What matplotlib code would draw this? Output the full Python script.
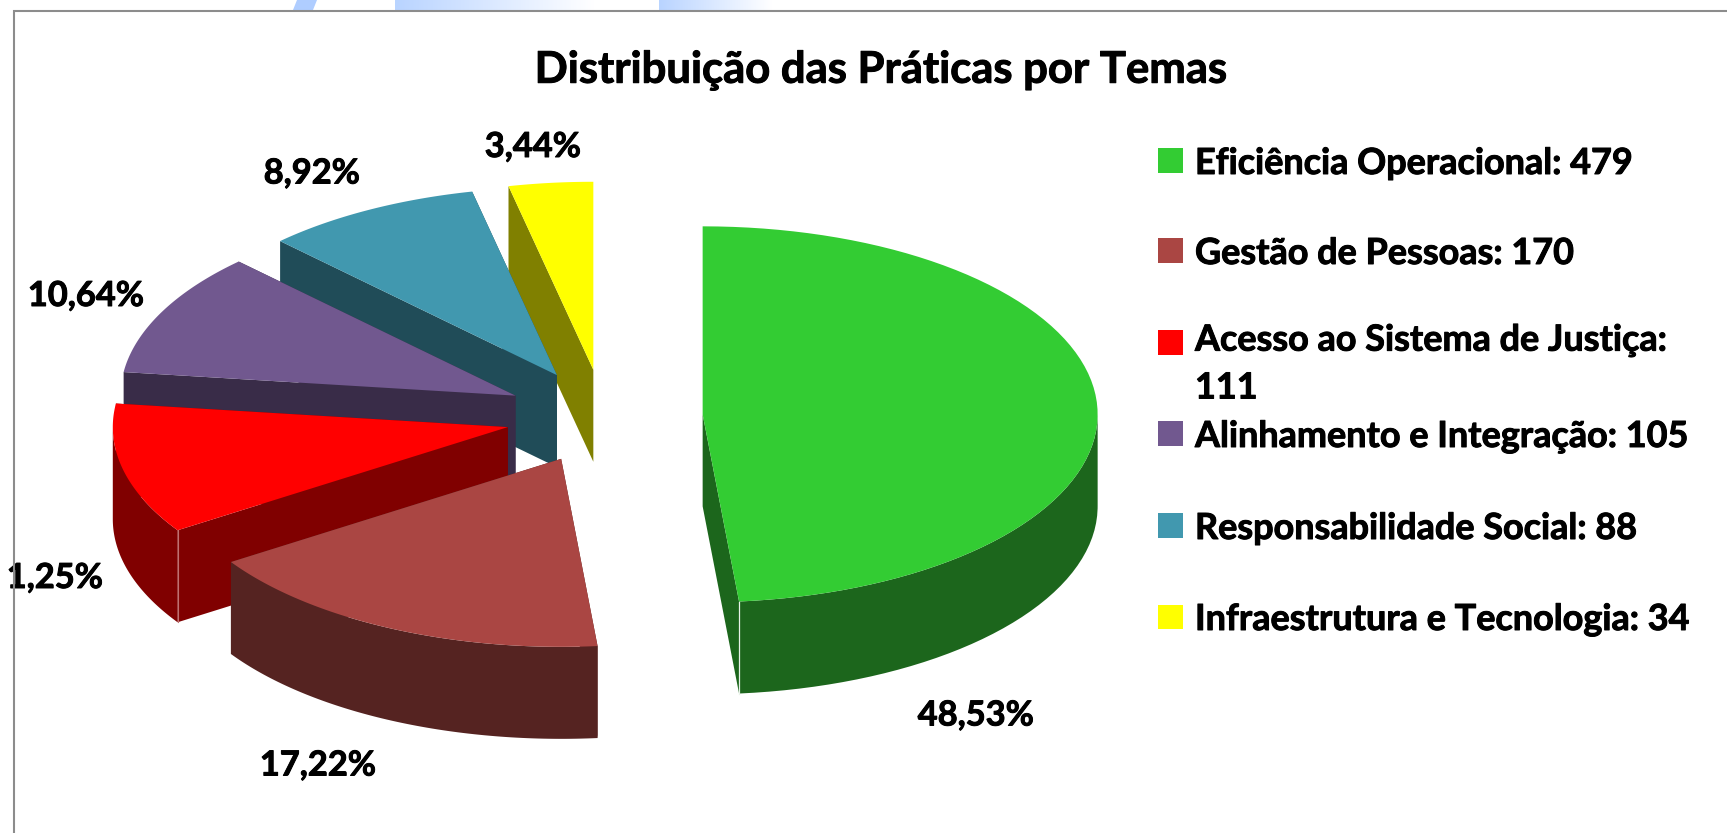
import numpy as np
import matplotlib
matplotlib.use('Agg')
import matplotlib.pyplot as plt
import matplotlib.patheffects as pe
from matplotlib.colors import LinearSegmentedColormap
from matplotlib.patches import Rectangle

# data
temas = ['Eficiência Operacional: 479', 'Gestão de Pessoas: 170',
         'Acesso ao Sistema de Justiça:\n111', 'Alinhamento e Integração: 105',
         'Responsabilidade Social: 88', 'Infraestrutura e Tecnologia: 34']
praticas = [479, 170, 111, 105, 88, 34]
percentuais = ['48,53%', '17,22%', '11,25%', '10,64%', '8,92%', '3,44%']

cores_topo = ['#33CC33', '#AA4643', '#FF0000', '#71588F', '#4198AF', '#FFFF00']
cores_lado = ['#1C661C', '#552321', '#800000', '#392C48', '#204C58', '#808000']

plt.rcParams['font.family'] = ['Lato', 'DejaVu Sans']

# layout in pixels of the original picture
cx, cy = 604, 416.5
rx, ry = 395, 188
explode = 0.25
espessura = 92
rot_x = [976, 318, 103, 86, 312, 533]
rot_y = [715.5, 765.5, 578, 296, 173.5, 147]
leg_y = [148, 238, 330, 421, 513, 604.5]
leg_base = [174, 264, 398.5, 447, 539, 630]
negrito = [pe.withStroke(linewidth=0.7, foreground='black')]

fig = plt.figure(figsize=(17.27, 8.33), dpi=100)
ax = fig.add_axes([0, 0, 1, 1])


def ponto(ang, raio=1.0):
    # clockwise from the top, flattened like the tilted pie
    return raio * rx * np.sin(ang), -raio * ry * np.cos(ang)


# blue background pieces peeking out above the frame
azul = LinearSegmentedColormap.from_list('azul', ['#B9D4FF', '#FFFFFF'])
ax.fill([297, 317, 313, 293], [0, 0, 10, 10], color='#AFCDFF', lw=0)
gradiente = np.linspace(0, 1, 200).reshape(1, -1)
ax.imshow(gradiente, cmap=azul, extent=[395, 595, 10, 0], aspect='auto')
ax.imshow(gradiente, cmap=azul, extent=[659, 772, 10, 0], aspect='auto')

# slices, back ones first so the front ones cover them
limites = np.cumsum([0] + praticas) / sum(praticas) * 2 * np.pi
ordem = [5, 4, 3, 2, 1, 0]
for i in ordem:
    ini, fim = limites[i], limites[i + 1]
    dx, dy = ponto((ini + fim) / 2, explode)
    ox, oy = cx + dx, cy + dy
    angs = np.linspace(ini, fim, 80)
    bx, by = ponto(angs)
    bx, by = ox + bx, oy + by
    # outer wall, only the part of the arc that faces the viewer
    fx, fy = ponto(np.clip(angs, np.pi / 2, 3 * np.pi / 2))
    fx, fy = ox + fx, oy + fy
    ax.fill(np.r_[fx, fx[::-1]], np.r_[fy, fy[::-1] + espessura],
            color=cores_lado[i], lw=0)
    # both cut faces
    for k in (0, -1):
        ax.fill([ox, bx[k], bx[k], ox],
                [oy, by[k], by[k] + espessura, oy + espessura],
                color=cores_lado[i], lw=0)
    # thin light line on the front corner of the walls
    if i == 0:
        ax.plot([bx[-1], bx[-1]], [by[-1], by[-1] + espessura], color='#E8F2E8', lw=0.9)
    if i == 2:
        ax.plot([bx[0], bx[0]], [by[0], by[0] + espessura], color='#C07070', lw=0.8)
    # top face
    ax.fill(np.r_[ox, bx], np.r_[oy, by], color=cores_topo[i], lw=0)

# frame, only left and top are visible
ax.plot([14.5, 14.5, 1727], [833, 10.5, 10.5], color='#8C8C8C', lw=1.5, zorder=6,
        solid_joinstyle='miter')

ax.text(881, 70, 'Distribuição das Práticas por Temas', fontsize=31.4, fontweight='bold',
        ha='center', va='center', color='black', path_effects=negrito)

for i, rot in enumerate(percentuais):
    ha = 'right' if i == 2 else 'center'
    t = ax.text(rot_x[i], rot_y[i], rot, fontsize=24.8, fontweight='bold', ha=ha, va='center',
                color='black', zorder=5, path_effects=negrito)
    if i == 2:
        # this label is cut off by the edge of the chart in the original
        t.set_clip_path(Rectangle((6.5, 540), 200, 80, transform=ax.transData))
        t.set_clip_on(True)

for i, nome in enumerate(temas):
    ax.add_patch(Rectangle((1158, leg_y[i]), 25.5, 24.5, color=cores_topo[i], lw=0))
    ax.text(1195, leg_base[i], nome, fontsize=25.9, fontweight='bold', ha='left', va='baseline',
            color='black', linespacing=1.55, path_effects=negrito)

ax.set_xlim(0, 1727)
ax.set_ylim(833, 0)
ax.axis('off')
fig.savefig('out.png', dpi=100, facecolor='white')
